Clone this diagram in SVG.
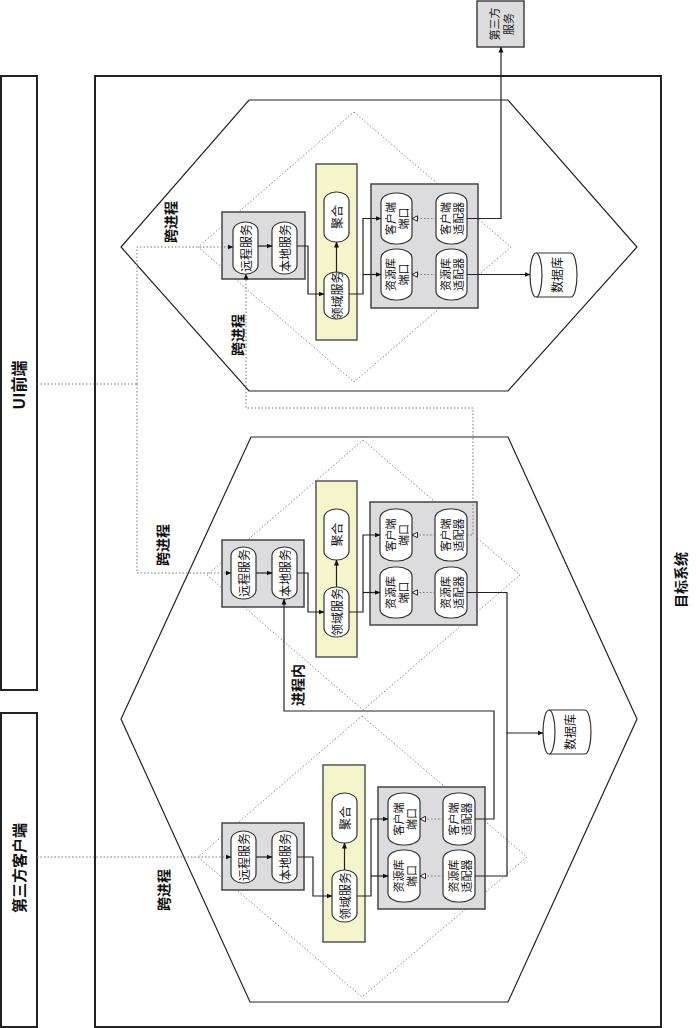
<svg xmlns="http://www.w3.org/2000/svg" width="700" height="1028" viewBox="0 0 700 1028">
<defs>
<marker id="arr" markerWidth="6" markerHeight="6" refX="5.5" refY="3" orient="auto" markerUnits="userSpaceOnUse"><path d="M0,0.5 L6,3 L0,5.5 Z" fill="#111"/></marker>
<marker id="hol" markerWidth="7" markerHeight="7" refX="6" refY="3.5" orient="auto" markerUnits="userSpaceOnUse"><path d="M0.5,0.8 L6,3.5 L0.5,6.2 Z" fill="#fff" stroke="#111" stroke-width="0.9"/></marker>
</defs>
<style>
.frame{fill:#fff;stroke:#222;stroke-width:2}
.hex{fill:none;stroke:#222;stroke-width:1.2}
.dia{fill:none;stroke:#888;stroke-width:1;stroke-dasharray:1.5 2}
.gbox{fill:#dcdcdf;stroke:#444;stroke-width:1.5}
.ybox{fill:#f5f5cc;stroke:#555;stroke-width:1.5}
.pill{fill:#fff;stroke:#333;stroke-width:1.2}
.db{fill:#fff;stroke:#333;stroke-width:1.2}
.t{font-family:"Noto Sans CJK SC","Noto Sans",sans-serif;font-size:11px;fill:#111;text-anchor:middle;dominant-baseline:central}
.s{font-size:12px}
.b{font-family:"Noto Sans CJK SC","Noto Sans",sans-serif;font-weight:bold;fill:#111;text-anchor:middle;dominant-baseline:central}
.c{fill:none;stroke:#222;stroke-width:1.2}
.d{fill:none;stroke:#777;stroke-width:1;stroke-dasharray:1.5 2}
</style>
<rect width="700" height="1028" fill="#fff"/>

<g id="ui-frontend">
<rect class="frame" x="1" y="76" width="36" height="614"/>
<text class="b" font-size="16" transform="rotate(-90 18 385)" x="18" y="385">UI前端</text>
</g>
<g id="third-party-client">
<rect class="frame" x="1" y="713" width="36" height="314"/>
<text class="b" font-size="15" transform="rotate(-90 18 868)" x="18" y="868">第三方客户端</text>
</g>
<g id="target-system">
<rect class="frame" x="95" y="76" width="566" height="951"/>
<text class="b" font-size="14" transform="rotate(-90 680 580)" x="680" y="580">目标系统</text>
</g>
<g id="third-party-service">
<rect class="gbox" x="477" y="1" width="47" height="46"/>
<text class="t" transform="rotate(-90 500.5 24)" x="500.5" y="24"><tspan x="500.5" dy="-7">第三方</tspan><tspan x="500.5" dy="14">服务</tspan></text>
</g>

<g id="hexagons">
<polygon class="hex" points="249,100 508,100 637,247 508,391 249,391 121,247"/>
<polygon class="hex" points="251,437 508,437 637,719 508,1002 250,1002 121,719"/>
<polygon class="dia" points="354,112 511,247 354,382 198,247"/>
<polygon class="dia" points="363,440 520,575 363,710 207,575"/>
<polygon class="dia" points="362,716 527,857 362,997 198,857"/>
</g>

<g id="labels">
<text class="b" font-size="14" transform="rotate(-90 170 222)" x="170" y="222">跨进程</text>
<text class="b" font-size="14" transform="rotate(-90 237 335)" x="237" y="335">跨进程</text>
<text class="b" font-size="14" transform="rotate(-90 162 545)" x="162" y="545">跨进程</text>
<text class="b" font-size="14" transform="rotate(-90 163 890)" x="163" y="890">跨进程</text>
<text class="b" font-size="14" transform="rotate(-90 297 685)" x="297" y="685">进程内</text>
</g>

<!-- Top application -->
<g id="top-app">
<rect class="gbox" x="222" y="212" width="83" height="67"/>
<rect class="ybox" x="316" y="164" width="41" height="176"/>
<rect class="gbox" x="371" y="184" width="107" height="124"/>
</g>
<g id="top-remote-service"><rect class="pill" x="233" y="222" width="25" height="52" rx="12" ry="9"/><text class="t s" transform="rotate(-90 245.5 248)" x="245.5" y="248">远程服务</text></g>
<g id="top-local-service"><rect class="pill" x="272" y="222" width="25" height="52" rx="12" ry="9"/><text class="t s" transform="rotate(-90 284.5 248)" x="284.5" y="248">本地服务</text></g>
<g id="top-aggregate"><rect class="pill" x="324" y="192" width="25" height="50" rx="12" ry="9"/><text class="t s" transform="rotate(-90 336.5 217)" x="336.5" y="217">聚合</text></g>
<g id="top-domain-service"><rect class="pill" x="324" y="272" width="25" height="47" rx="12" ry="9"/><text class="t s" transform="rotate(-90 336.5 295.5)" x="336.5" y="295.5">领域服务</text></g>
<g id="top-client-port"><rect class="pill" x="381" y="193" width="31" height="51" rx="14" ry="9"/><text class="t" transform="rotate(-90 396.5 218.5)" x="396.5" y="218.5"><tspan x="396.5" dy="-6.5">客户端</tspan><tspan x="396.5" dy="13">端口</tspan></text></g>
<g id="top-repo-port"><rect class="pill" x="381" y="249" width="31" height="51" rx="14" ry="9"/><text class="t" transform="rotate(-90 396.5 274.5)" x="396.5" y="274.5"><tspan x="396.5" dy="-6.5">资源库</tspan><tspan x="396.5" dy="13">端口</tspan></text></g>
<g id="top-client-adapter"><rect class="pill" x="436" y="193" width="31" height="51" rx="14" ry="9"/><text class="t" transform="rotate(-90 451.5 218.5)" x="451.5" y="218.5"><tspan x="451.5" dy="-6.5">客户端</tspan><tspan x="451.5" dy="13">适配器</tspan></text></g>
<g id="top-repo-adapter"><rect class="pill" x="436" y="249" width="31" height="51" rx="14" ry="9"/><text class="t" transform="rotate(-90 451.5 274.5)" x="451.5" y="274.5"><tspan x="451.5" dy="-6.5">资源库</tspan><tspan x="451.5" dy="13">适配器</tspan></text></g>
<g id="top-database">
<path class="db" d="M536,253 H571 A6,22 0 0 1 571,297 H536 A6,22 0 0 1 536,253 Z"/>
<path class="db" d="M536,253 A6,22 0 0 1 536,297"/>
<text class="t s" transform="rotate(-90 556 275)" x="556" y="275">数据库</text>
</g>

<!-- Middle application -->
<g id="mid-app">
<rect class="gbox" x="222" y="540" width="82" height="67"/>
<rect class="ybox" x="316" y="481" width="41" height="176"/>
<rect class="gbox" x="370" y="502" width="107" height="123"/>
</g>
<g id="mid-remote-service"><rect class="pill" x="231" y="547" width="25" height="52" rx="12" ry="9"/><text class="t s" transform="rotate(-90 243.5 573)" x="243.5" y="573">远程服务</text></g>
<g id="mid-local-service"><rect class="pill" x="272" y="547" width="25" height="52" rx="12" ry="9"/><text class="t s" transform="rotate(-90 284.5 573)" x="284.5" y="573">本地服务</text></g>
<g id="mid-aggregate"><rect class="pill" x="324" y="509" width="25" height="51" rx="12" ry="9"/><text class="t s" transform="rotate(-90 336.5 534.5)" x="336.5" y="534.5">聚合</text></g>
<g id="mid-domain-service"><rect class="pill" x="324" y="587" width="25" height="50" rx="12" ry="9"/><text class="t s" transform="rotate(-90 336.5 612)" x="336.5" y="612">领域服务</text></g>
<g id="mid-client-port"><rect class="pill" x="380" y="509" width="32" height="52" rx="14" ry="9"/><text class="t" transform="rotate(-90 396 535)" x="396" y="535"><tspan x="396" dy="-6.5">客户端</tspan><tspan x="396" dy="13">端口</tspan></text></g>
<g id="mid-repo-port"><rect class="pill" x="380" y="567" width="32" height="51" rx="14" ry="9"/><text class="t" transform="rotate(-90 396 592.5)" x="396" y="592.5"><tspan x="396" dy="-6.5">资源库</tspan><tspan x="396" dy="13">端口</tspan></text></g>
<g id="mid-client-adapter"><rect class="pill" x="435" y="509" width="32" height="52" rx="14" ry="9"/><text class="t" transform="rotate(-90 451 535)" x="451" y="535"><tspan x="451" dy="-6.5">客户端</tspan><tspan x="451" dy="13">适配器</tspan></text></g>
<g id="mid-repo-adapter"><rect class="pill" x="435" y="567" width="32" height="51" rx="14" ry="9"/><text class="t" transform="rotate(-90 451 592.5)" x="451" y="592.5"><tspan x="451" dy="-6.5">资源库</tspan><tspan x="451" dy="13">适配器</tspan></text></g>

<!-- Bottom application -->
<g id="bot-app">
<rect class="gbox" x="222" y="823" width="82" height="67"/>
<rect class="ybox" x="323" y="765" width="42" height="177"/>
<rect class="gbox" x="378" y="787" width="107" height="122"/>
</g>
<g id="bot-remote-service"><rect class="pill" x="231" y="831" width="25" height="52" rx="12" ry="9"/><text class="t s" transform="rotate(-90 243.5 857)" x="243.5" y="857">远程服务</text></g>
<g id="bot-local-service"><rect class="pill" x="272" y="831" width="25" height="52" rx="12" ry="9"/><text class="t s" transform="rotate(-90 284.5 857)" x="284.5" y="857">本地服务</text></g>
<g id="bot-aggregate"><rect class="pill" x="332" y="793" width="25" height="50" rx="12" ry="9"/><text class="t s" transform="rotate(-90 344.5 818)" x="344.5" y="818">聚合</text></g>
<g id="bot-domain-service"><rect class="pill" x="332" y="870" width="25" height="52" rx="12" ry="9"/><text class="t s" transform="rotate(-90 344.5 896)" x="344.5" y="896">领域服务</text></g>
<g id="bot-client-port"><rect class="pill" x="388" y="793" width="32" height="52" rx="14" ry="9"/><text class="t" transform="rotate(-90 404 819)" x="404" y="819"><tspan x="404" dy="-6.5">客户端</tspan><tspan x="404" dy="13">端口</tspan></text></g>
<g id="bot-repo-port"><rect class="pill" x="388" y="850" width="32" height="52" rx="14" ry="9"/><text class="t" transform="rotate(-90 404 876)" x="404" y="876"><tspan x="404" dy="-6.5">资源库</tspan><tspan x="404" dy="13">端口</tspan></text></g>
<g id="bot-client-adapter"><rect class="pill" x="443" y="793" width="32" height="52" rx="14" ry="9"/><text class="t" transform="rotate(-90 459 819)" x="459" y="819"><tspan x="459" dy="-6.5">客户端</tspan><tspan x="459" dy="13">适配器</tspan></text></g>
<g id="bot-repo-adapter"><rect class="pill" x="443" y="850" width="32" height="52" rx="14" ry="9"/><text class="t" transform="rotate(-90 459 876)" x="459" y="876"><tspan x="459" dy="-6.5">资源库</tspan><tspan x="459" dy="13">适配器</tspan></text></g>
<g id="bot-database">
<path class="db" d="M549,710 H585 A6,22 0 0 1 585,754 H549 A6,22 0 0 1 549,710 Z"/>
<path class="db" d="M549,710 A6,22 0 0 1 549,754"/>
<text class="t s" transform="rotate(-90 569 732)" x="569" y="732">数据库</text>
</g>

<g id="connectors">
<!-- top app -->
<path class="c" d="M258,246 H272" marker-end="url(#arr)"/>
<path class="c" d="M297,246 H308 V294 H324" marker-end="url(#arr)"/>
<path class="c" d="M336.5,272 V242" marker-end="url(#arr)"/>
<path class="c" d="M349,294 H363 V218.5 H381" marker-end="url(#arr)"/>
<path class="c" d="M363,274.5 H381" marker-end="url(#arr)"/>
<path class="d" d="M436,218.5 H412" marker-end="url(#hol)"/>
<path class="d" d="M436,274.5 H412" marker-end="url(#hol)"/>
<path class="c" d="M467,274.5 H530" marker-end="url(#arr)"/>
<path class="c" d="M467,218.5 H501 V47" marker-end="url(#arr)"/>
<!-- middle app -->
<path class="c" d="M256,573 H272" marker-end="url(#arr)"/>
<path class="c" d="M297,573 H308 V612 H324" marker-end="url(#arr)"/>
<path class="c" d="M336.5,587 V560" marker-end="url(#arr)"/>
<path class="c" d="M349,612 H363 V535 H380" marker-end="url(#arr)"/>
<path class="c" d="M363,592.5 H380" marker-end="url(#arr)"/>
<path class="d" d="M435,535 H412" marker-end="url(#hol)"/>
<path class="d" d="M435,592.5 H412" marker-end="url(#hol)"/>
<path class="d" d="M467,535 H473 V408 H246 V274" marker-end="url(#arr)"/>
<path class="c" d="M467,592.5 H507 V733"/>
<!-- bottom app -->
<path class="c" d="M256,857 H272" marker-end="url(#arr)"/>
<path class="c" d="M297,857 H313 V896 H332" marker-end="url(#arr)"/>
<path class="c" d="M344.5,870 V843" marker-end="url(#arr)"/>
<path class="c" d="M357,896 H371 V819 H388" marker-end="url(#arr)"/>
<path class="c" d="M371,876 H388" marker-end="url(#arr)"/>
<path class="d" d="M443,819 H420" marker-end="url(#hol)"/>
<path class="d" d="M443,876 H420" marker-end="url(#hol)"/>
<path class="c" d="M475,876 H507 V733 H543" marker-end="url(#arr)"/>
<path class="c" d="M475,819 H494 V711 H284 V599" marker-end="url(#arr)"/>
<!-- clients -->
<path class="d" d="M37,384 H137"/>
<path class="d" d="M137,384 V247 H233" marker-end="url(#arr)"/>
<path class="d" d="M137,384 V573 H231" marker-end="url(#arr)"/>
<path class="d" d="M37,857 H231" marker-end="url(#arr)"/>
</g>
</svg>
